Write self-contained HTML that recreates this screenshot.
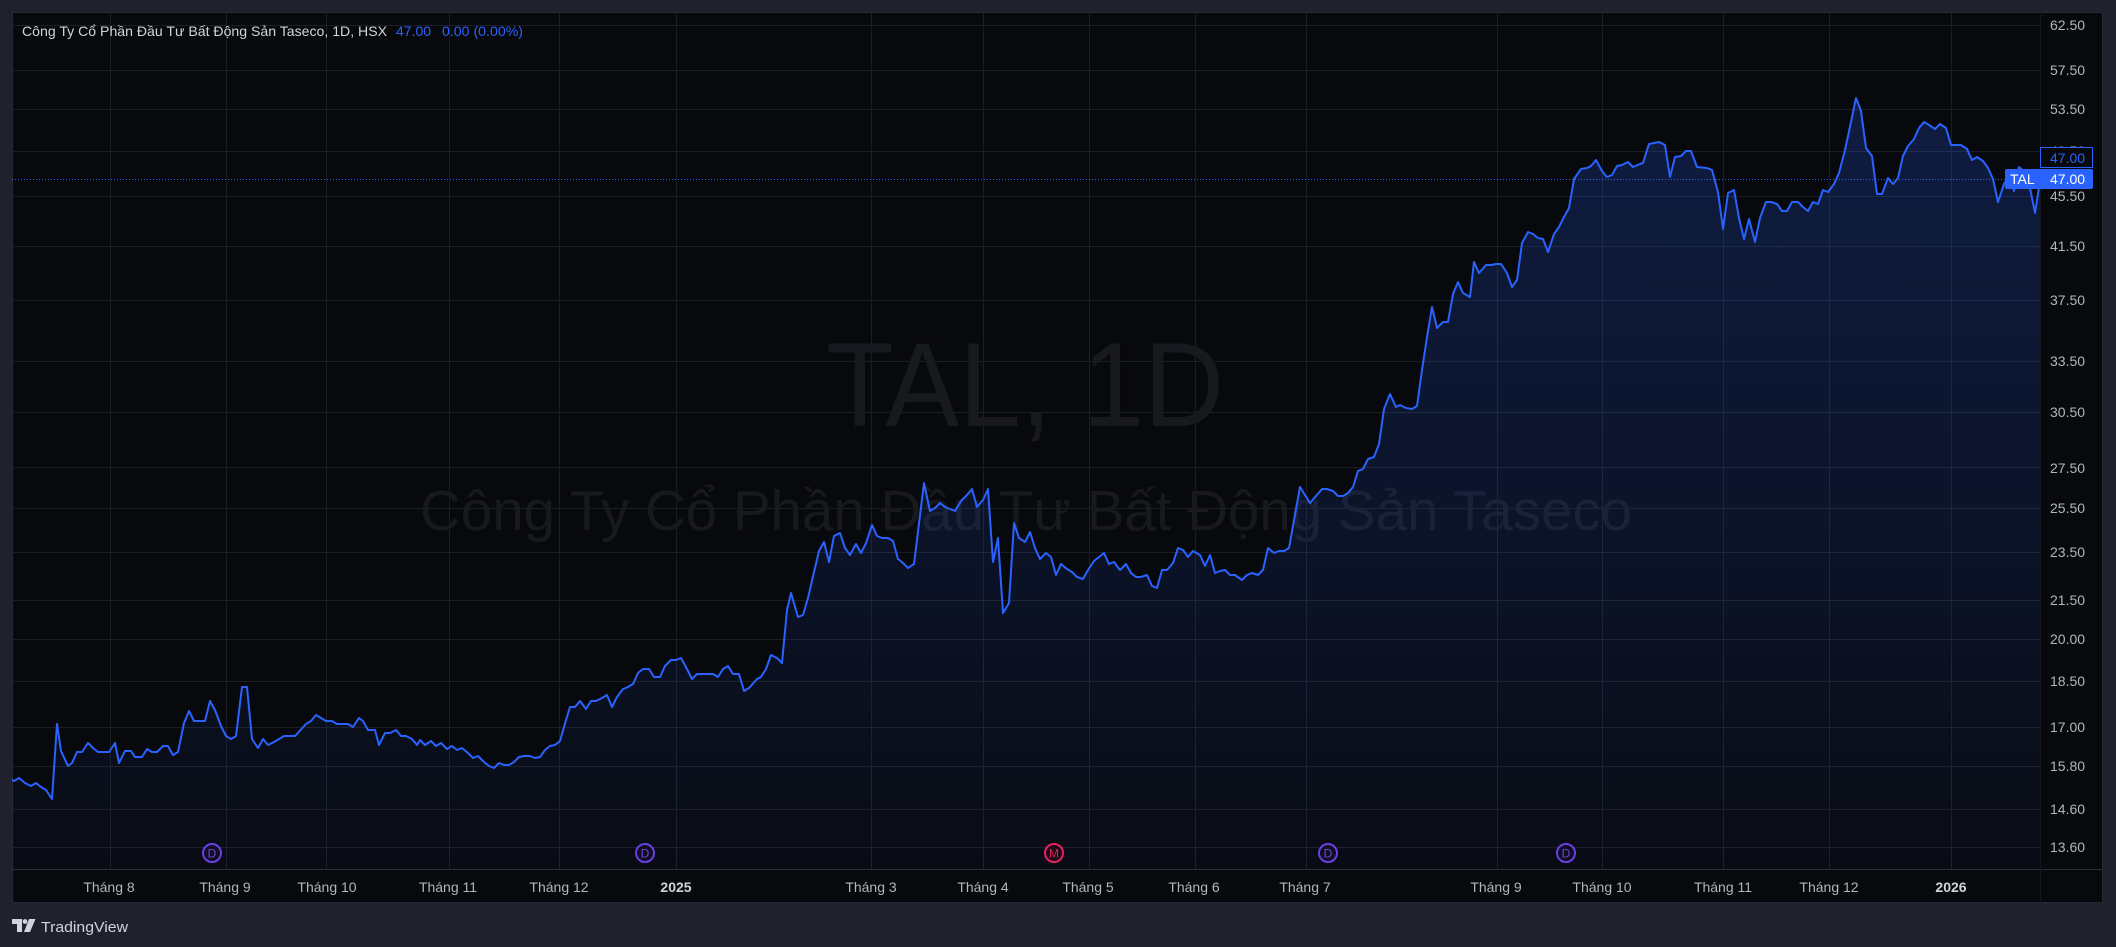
<!DOCTYPE html>
<html>
<head>
<meta charset="utf-8">
<style>
html,body{margin:0;padding:0;background:#1f222c;width:2116px;height:947px;overflow:hidden;}
svg{display:block;}
text{font-family:"Liberation Sans","Noto Sans CJK SC",sans-serif;}
</style>
</head>
<body>
<svg width="2116" height="947" viewBox="0 0 2116 947" xmlns="http://www.w3.org/2000/svg">
<defs>
<linearGradient id="ag" gradientUnits="userSpaceOnUse" x1="0" y1="98" x2="0" y2="869">
<stop offset="0" stop-color="#2962ff" stop-opacity="0.22"/>
<stop offset="1" stop-color="#2962ff" stop-opacity="0.035"/>
</linearGradient>
<clipPath id="pane"><rect x="12" y="12" width="2028" height="857"/></clipPath>
</defs>
<rect x="0" y="0" width="2116" height="947" fill="#1f222c"/>
<rect x="12" y="12" width="2091" height="891" fill="#08090c"/>
<rect x="12.5" y="12.5" width="2090" height="890" fill="none" stroke="#262a34" stroke-width="1"/>

<!-- grid -->
<g stroke="#1b1e25" stroke-width="1">
<line x1="12" x2="2040" y1="25.5" y2="25.5"/>
<line x1="12" x2="2040" y1="70.5" y2="70.5"/>
<line x1="12" x2="2040" y1="109.5" y2="109.5"/>
<line x1="12" x2="2040" y1="151.5" y2="151.5"/>
<line x1="12" x2="2040" y1="196.5" y2="196.5"/>
<line x1="12" x2="2040" y1="246.5" y2="246.5"/>
<line x1="12" x2="2040" y1="300.5" y2="300.5"/>
<line x1="12" x2="2040" y1="361.5" y2="361.5"/>
<line x1="12" x2="2040" y1="412.5" y2="412.5"/>
<line x1="12" x2="2040" y1="467.5" y2="467.5"/>
<line x1="12" x2="2040" y1="508.5" y2="508.5"/>
<line x1="12" x2="2040" y1="552.5" y2="552.5"/>
<line x1="12" x2="2040" y1="600.5" y2="600.5"/>
<line x1="12" x2="2040" y1="639.5" y2="639.5"/>
<line x1="12" x2="2040" y1="681.5" y2="681.5"/>
<line x1="12" x2="2040" y1="727.5" y2="727.5"/>
<line x1="12" x2="2040" y1="766.5" y2="766.5"/>
<line x1="12" x2="2040" y1="809.5" y2="809.5"/>
<line x1="12" x2="2040" y1="847.5" y2="847.5"/>
<line y1="12" y2="869" x1="110.5" x2="110.5"/>
<line y1="12" y2="869" x1="226.5" x2="226.5"/>
<line y1="12" y2="869" x1="326.5" x2="326.5"/>
<line y1="12" y2="869" x1="449.5" x2="449.5"/>
<line y1="12" y2="869" x1="559.5" x2="559.5"/>
<line y1="12" y2="869" x1="676.5" x2="676.5"/>
<line y1="12" y2="869" x1="871.5" x2="871.5"/>
<line y1="12" y2="869" x1="983.5" x2="983.5"/>
<line y1="12" y2="869" x1="1089.5" x2="1089.5"/>
<line y1="12" y2="869" x1="1195.5" x2="1195.5"/>
<line y1="12" y2="869" x1="1306.5" x2="1306.5"/>
<line y1="12" y2="869" x1="1497.5" x2="1497.5"/>
<line y1="12" y2="869" x1="1602.5" x2="1602.5"/>
<line y1="12" y2="869" x1="1723.5" x2="1723.5"/>
<line y1="12" y2="869" x1="1829.5" x2="1829.5"/>
<line y1="12" y2="869" x1="1951.5" x2="1951.5"/>
</g>

<!-- watermark -->
<text x="826" y="426" font-size="120" fill="#17191e" textLength="398" lengthAdjust="spacingAndGlyphs">TAL, 1D</text>
<text x="420" y="530" font-size="57" fill="#17191e" textLength="1212" lengthAdjust="spacingAndGlyphs">Công Ty Cổ Phần Đầu Tư Bất Động Sản Taseco</text>

<!-- series -->
<g clip-path="url(#pane)">
<polygon fill="url(#ag)" points="12,869 12,780 14,781 19,778 25,783 31,786 36,783 41,787 46,790 52,799 57,724 61,751 68,766 72,763 77,752 82,752 88,743 93,748 98,752 109,752 115,743 119,763 125,751 131,751 135,757 142,757 147,749 152,752 157,752 163,746 168,746 173,755 178,752 184,723 189,711 194,721 205,721 210,701 215,710 221,726 226,736 231,739 236,736 242,687 247,687 252,739 258,748 263,739 268,745 274,742 279,739 284,736 295,736 306,724 311,721 316,715 321,718 326,721 332,721 337,724 348,724 353,727 359,718 363,721 368,730 375,730 379,745 385,733 390,733 396,730 401,736 406,736 412,739 417,745 420,740 425,745 431,741 436,746 441,743 447,749 452,746 457,750 462,748 468,753 473,758 478,756 484,762 489,766 494,768 499,763 504,765 509,765 514,762 519,757 524,756 530,756 535,758 540,757 545,750 550,746 555,745 560,741 566,720 570,707 575,707 580,701 586,709 591,701 596,701 602,698 607,695 612,707 617,697 623,689 628,687 633,684 638,673 643,669 649,669 654,677 660,677 665,666 671,660 676,660 681,658 687,669 692,679 697,674 713,674 718,677 723,669 728,666 733,674 739,674 744,691 749,688 757,679 761,677 766,669 771,655 777,658 782,663 787,610 791,593 798,617 803,615 808,598 814,572 819,551 824,542 829,562 834,536 840,533 845,548 850,555 856,544 861,553 866,543 872,525 877,536 882,538 888,538 893,541 898,559 902,562 908,568 914,564 924,483 930,511 935,508 940,503 945,507 950,509 955,511 961,501 967,495 972,489 977,507 983,500 988,489 993,562 998,538 1003,613 1009,603 1014,523 1019,538 1025,542 1030,532 1035,548 1040,559 1046,553 1051,557 1056,575 1061,564 1067,569 1072,572 1077,577 1083,579 1088,570 1094,561 1099,557 1104,553 1109,564 1114,562 1120,570 1126,564 1131,573 1136,577 1141,577 1147,575 1152,586 1157,588 1162,570 1167,570 1173,563 1178,548 1183,550 1188,557 1193,551 1200,555 1205,566 1210,555 1215,573 1220,571 1225,570 1230,575 1235,575 1242,580 1247,575 1252,573 1258,575 1263,570 1268,548 1274,553 1279,551 1284,551 1289,548 1300,487 1310,503 1322,489 1327,489 1333,491 1338,496 1343,496 1348,493 1353,487 1358,471 1363,469 1368,459 1374,457 1379,444 1384,409 1390,394 1396,407 1400,405 1406,408 1412,409 1417,406 1422,370 1427,337 1432,307 1437,328 1443,322 1448,322 1453,294 1458,282 1463,293 1470,297 1474,262 1479,273 1486,265 1491,265 1496,264 1501,264 1507,273 1512,287 1517,280 1522,243 1528,232 1533,234 1538,238 1543,239 1548,252 1554,234 1559,227 1564,217 1569,208 1574,179 1581,169 1587,168 1591,166 1596,160 1602,171 1607,177 1612,175 1617,166 1622,165 1628,162 1633,167 1640,164 1643,163 1649,144 1659,142 1665,145 1670,177 1675,157 1681,156 1686,151 1691,151 1697,167 1707,168 1712,170 1718,192 1723,229 1728,193 1734,190 1739,218 1744,239 1749,219 1755,242 1760,218 1766,202 1771,202 1777,204 1782,211 1787,211 1792,202 1798,202 1803,207 1808,211 1813,202 1818,204 1823,190 1828,192 1834,184 1839,173 1845,150 1851,122 1856,98 1861,111 1866,148 1872,156 1877,194 1882,194 1888,178 1893,184 1898,178 1903,156 1908,146 1914,139 1919,128 1924,122 1929,125 1935,129 1940,124 1946,128 1951,145 1956,145 1961,145 1967,149 1972,160 1977,157 1983,161 1988,168 1993,179 1998,202 2004,184 2009,177 2014,191 2019,167 2025,172 2030,188 2035,213 2040,181 2040,869"/>
<polyline fill="none" stroke="#2962ff" stroke-width="2" stroke-linejoin="round" stroke-linecap="round" points="12,780 14,781 19,778 25,783 31,786 36,783 41,787 46,790 52,799 57,724 61,751 68,766 72,763 77,752 82,752 88,743 93,748 98,752 109,752 115,743 119,763 125,751 131,751 135,757 142,757 147,749 152,752 157,752 163,746 168,746 173,755 178,752 184,723 189,711 194,721 205,721 210,701 215,710 221,726 226,736 231,739 236,736 242,687 247,687 252,739 258,748 263,739 268,745 274,742 279,739 284,736 295,736 306,724 311,721 316,715 321,718 326,721 332,721 337,724 348,724 353,727 359,718 363,721 368,730 375,730 379,745 385,733 390,733 396,730 401,736 406,736 412,739 417,745 420,740 425,745 431,741 436,746 441,743 447,749 452,746 457,750 462,748 468,753 473,758 478,756 484,762 489,766 494,768 499,763 504,765 509,765 514,762 519,757 524,756 530,756 535,758 540,757 545,750 550,746 555,745 560,741 566,720 570,707 575,707 580,701 586,709 591,701 596,701 602,698 607,695 612,707 617,697 623,689 628,687 633,684 638,673 643,669 649,669 654,677 660,677 665,666 671,660 676,660 681,658 687,669 692,679 697,674 713,674 718,677 723,669 728,666 733,674 739,674 744,691 749,688 757,679 761,677 766,669 771,655 777,658 782,663 787,610 791,593 798,617 803,615 808,598 814,572 819,551 824,542 829,562 834,536 840,533 845,548 850,555 856,544 861,553 866,543 872,525 877,536 882,538 888,538 893,541 898,559 902,562 908,568 914,564 924,483 930,511 935,508 940,503 945,507 950,509 955,511 961,501 967,495 972,489 977,507 983,500 988,489 993,562 998,538 1003,613 1009,603 1014,523 1019,538 1025,542 1030,532 1035,548 1040,559 1046,553 1051,557 1056,575 1061,564 1067,569 1072,572 1077,577 1083,579 1088,570 1094,561 1099,557 1104,553 1109,564 1114,562 1120,570 1126,564 1131,573 1136,577 1141,577 1147,575 1152,586 1157,588 1162,570 1167,570 1173,563 1178,548 1183,550 1188,557 1193,551 1200,555 1205,566 1210,555 1215,573 1220,571 1225,570 1230,575 1235,575 1242,580 1247,575 1252,573 1258,575 1263,570 1268,548 1274,553 1279,551 1284,551 1289,548 1300,487 1310,503 1322,489 1327,489 1333,491 1338,496 1343,496 1348,493 1353,487 1358,471 1363,469 1368,459 1374,457 1379,444 1384,409 1390,394 1396,407 1400,405 1406,408 1412,409 1417,406 1422,370 1427,337 1432,307 1437,328 1443,322 1448,322 1453,294 1458,282 1463,293 1470,297 1474,262 1479,273 1486,265 1491,265 1496,264 1501,264 1507,273 1512,287 1517,280 1522,243 1528,232 1533,234 1538,238 1543,239 1548,252 1554,234 1559,227 1564,217 1569,208 1574,179 1581,169 1587,168 1591,166 1596,160 1602,171 1607,177 1612,175 1617,166 1622,165 1628,162 1633,167 1640,164 1643,163 1649,144 1659,142 1665,145 1670,177 1675,157 1681,156 1686,151 1691,151 1697,167 1707,168 1712,170 1718,192 1723,229 1728,193 1734,190 1739,218 1744,239 1749,219 1755,242 1760,218 1766,202 1771,202 1777,204 1782,211 1787,211 1792,202 1798,202 1803,207 1808,211 1813,202 1818,204 1823,190 1828,192 1834,184 1839,173 1845,150 1851,122 1856,98 1861,111 1866,148 1872,156 1877,194 1882,194 1888,178 1893,184 1898,178 1903,156 1908,146 1914,139 1919,128 1924,122 1929,125 1935,129 1940,124 1946,128 1951,145 1956,145 1961,145 1967,149 1972,160 1977,157 1983,161 1988,168 1993,179 1998,202 2004,184 2009,177 2014,191 2019,167 2025,172 2030,188 2035,213 2040,181"/>
</g>

<!-- last price dotted line -->
<line x1="12" x2="2040" y1="179.5" y2="179.5" stroke="#2962ff" stroke-width="1" stroke-dasharray="1,2"/>

<!-- title -->
<text x="22" y="36" font-size="14" fill="#d1d4dc" textLength="365" lengthAdjust="spacingAndGlyphs">Công Ty Cổ Phần Đầu Tư Bất Động Sản Taseco, 1D, HSX</text>
<text x="396" y="36" font-size="14" fill="#2962ff">47.00</text>
<text x="442" y="36" font-size="14" fill="#2962ff" textLength="81" lengthAdjust="spacingAndGlyphs">0.00 (0.00%)</text>

<!-- axes separators -->
<line x1="12" x2="2103" y1="869.5" y2="869.5" stroke="#2a2e39" stroke-width="1"/>
<line x1="2040.5" x2="2040.5" y1="12" y2="903" stroke="#14161b" stroke-width="1"/>

<!-- price axis labels -->
<g font-size="14" fill="#b2b5be">
<text x="2050" y="30">62.50</text>
<text x="2050" y="75">57.50</text>
<text x="2050" y="114">53.50</text>
<text x="2050" y="156">49.50</text>
<text x="2050" y="201">45.50</text>
<text x="2050" y="251">41.50</text>
<text x="2050" y="305">37.50</text>
<text x="2050" y="366">33.50</text>
<text x="2050" y="417">30.50</text>
<text x="2050" y="473">27.50</text>
<text x="2050" y="513">25.50</text>
<text x="2050" y="557">23.50</text>
<text x="2050" y="605">21.50</text>
<text x="2050" y="644">20.00</text>
<text x="2050" y="686">18.50</text>
<text x="2050" y="732">17.00</text>
<text x="2050" y="771">15.80</text>
<text x="2050" y="814">14.60</text>
<text x="2050" y="852">13.60</text>
</g>

<!-- last value boxes -->
<rect x="2040.5" y="147.5" width="52" height="20" fill="#08090c" stroke="#2962ff" stroke-width="1"/>
<text x="2050" y="163" font-size="14" fill="#2962ff">47.00</text>
<rect x="2005" y="169" width="88" height="20" rx="2" fill="#2962ff"/>
<text x="2010" y="184" font-size="14" fill="#ffffff">TAL</text>
<text x="2050" y="184" font-size="14" fill="#ffffff">47.00</text>

<!-- time axis labels -->
<g font-size="14" fill="#b2b5be" text-anchor="middle">
<text x="109" y="892">Tháng 8</text>
<text x="225" y="892">Tháng 9</text>
<text x="327" y="892">Tháng 10</text>
<text x="448" y="892">Tháng 11</text>
<text x="559" y="892">Tháng 12</text>
<text x="676" y="892" font-weight="bold" fill="#d1d4dc">2025</text>
<text x="871" y="892">Tháng 3</text>
<text x="983" y="892">Tháng 4</text>
<text x="1088" y="892">Tháng 5</text>
<text x="1194" y="892">Tháng 6</text>
<text x="1305" y="892">Tháng 7</text>
<text x="1496" y="892">Tháng 9</text>
<text x="1602" y="892">Tháng 10</text>
<text x="1723" y="892">Tháng 11</text>
<text x="1829" y="892">Tháng 12</text>
<text x="1951" y="892" font-weight="bold" fill="#d1d4dc">2026</text>
</g>

<!-- event markers -->
<g stroke-width="2" font-size="12" text-anchor="middle">
<circle cx="212" cy="853" r="9" fill="#110e22" stroke="#6a3ee6"/>
<text x="212" y="857.5" fill="#6a48e0" stroke="none">D</text>
<circle cx="645" cy="853" r="9" fill="#110e22" stroke="#6a3ee6"/>
<text x="645" y="857.5" fill="#6a48e0" stroke="none">D</text>
<circle cx="1054" cy="853" r="9" fill="#1c0a14" stroke="#e91e63"/>
<text x="1054" y="857.5" fill="#e0205f" stroke="none">M</text>
<circle cx="1328" cy="853" r="9" fill="#110e22" stroke="#6a3ee6"/>
<text x="1328" y="857.5" fill="#6a48e0" stroke="none">D</text>
<circle cx="1566" cy="853" r="9" fill="#110e22" stroke="#6a3ee6"/>
<text x="1566" y="857.5" fill="#6a48e0" stroke="none">D</text>
</g>

<!-- TradingView logo -->
<g fill="#d1d4dc">
<path d="M12 919 H22 V932 H17 V924 H12 Z"/>
<circle cx="25" cy="921.5" r="2.4"/>
<polygon points="29,919 35.5,919 30,932 24,932"/>
<text x="41" y="932" font-size="15" textLength="87" lengthAdjust="spacingAndGlyphs">TradingView</text>
</g>
</svg>
</body>
</html>
